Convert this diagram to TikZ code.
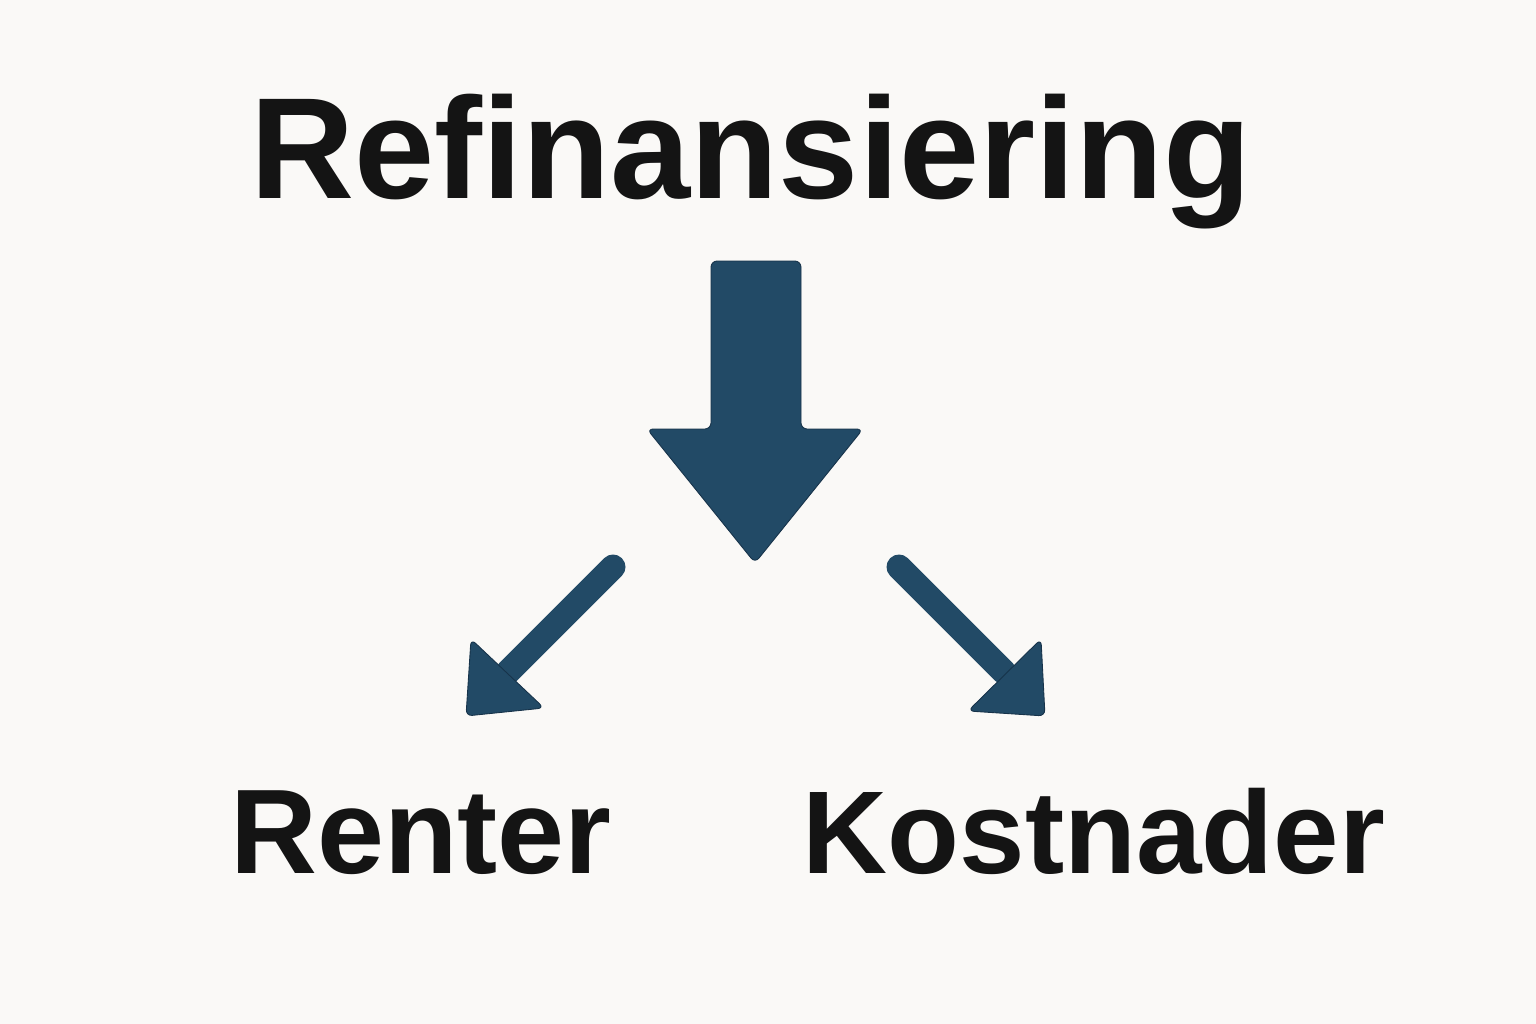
\documentclass[tikz,border=0pt]{standalone}
\usepackage{fontspec}
\setmainfont{Liberation Sans}
\begin{document}
\begin{tikzpicture}[x=0.02cm,y=-0.02cm]
        % Define colors
        \definecolor{bgcolor}{RGB}{250,249,247}   % paper
        \definecolor{arrowcolor}{HTML}{224A66}    % dark blue
        \definecolor{edgecolor}{HTML}{17334A}
        \tikzset{
            wordlabel/.style={anchor=base, inner sep=0pt, text=black!92},
            arrowbody/.style={fill=arrowcolor, draw=edgecolor, line width=0.5pt, rounded corners=3.5pt}
        }

        % Draw background
        \fill[bgcolor] (0,0) rectangle (1536,1024);

        % Labels
        \node[wordlabel, font=\fontsize{82}{90}\selectfont\bfseries] (title) at (751,198) {Refinansiering};
        \node[wordlabel, font=\fontsize{68.5}{74}\selectfont\bfseries] (renter) at (421,873) {Renter};
        \node[wordlabel, font=\fontsize{67}{74}\selectfont\bfseries] (kost) at (1094,873) {Kostnader};

        % Big arrow down
        \filldraw[arrowbody] (711,261) -- (801,261) -- (801,429) -- (863,429) -- (755,563)
            -- (647,429) -- (711,429) -- cycle;

        % Left small arrow
        \draw[arrowcolor, line width=0.5cm, line cap=round] (613,567) -- (508,672);
        \filldraw[arrowbody] (471,639) -- (544,708) -- (466,716) -- cycle;

        % Right small arrow
        \draw[arrowcolor, line width=0.5cm, line cap=round] (899,567) -- (1004,672);
        \filldraw[arrowbody] (1041,639) -- (1045,716) -- (968,711) -- cycle;
    \end{tikzpicture}
\end{document}
